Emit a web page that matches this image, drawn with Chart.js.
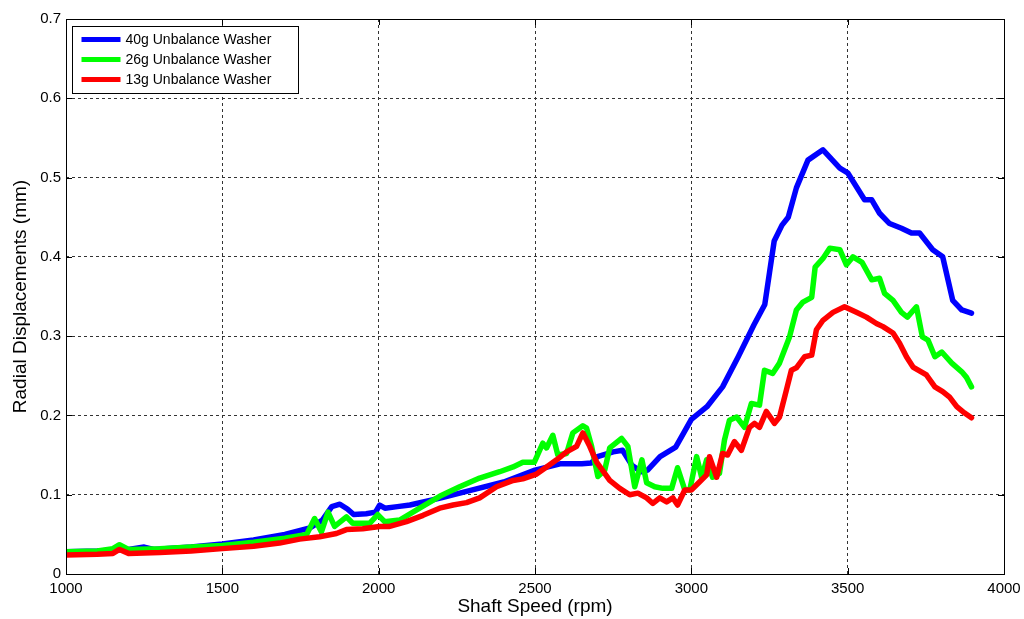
<!DOCTYPE html>
<html>
<head>
<meta charset="utf-8">
<title>Radial Displacements vs Shaft Speed</title>
<script src="https://cdn.jsdelivr.net/npm/chart.js@4.4.0/dist/chart.umd.min.js"></script>
<style>
  body { margin: 0; background: #fff; }
  #wrap { width: 1024px; height: 619px; }
</style>
</head>
<body>
<div id="wrap"><canvas id="speedChart" width="1024" height="619"></canvas></div>
<script>
//series names
var labels = ["40g Unbalance Washer", "26g Unbalance Washer", "13g Unbalance Washer"];
var colors = ["#0000ff", "#00ff00", "#ff0000"];

//axis ticks
var xTicks = [1000, 1500, 2000, 2500, 3000, 3500, 4000];
var yTicks = [0, 0.1, 0.2, 0.3, 0.4, 0.5, 0.6, 0.7];

//40g washer (rpm / mm)
var rpm40 = [1000, 1100, 1200, 1250, 1280, 1400, 1500, 1600, 1700, 1780, 1820, 1850, 1876, 1900, 1920, 1960, 1990, 2003, 2020, 2060,
    2100, 2200, 2300, 2400, 2500, 2580, 2650, 2680, 2700, 2750, 2780, 2810, 2840, 2860, 2900, 2950, 3000, 3050, 3100, 3150,
    3200, 3235, 3250, 3265, 3290, 3310, 3336, 3373, 3421, 3475, 3500, 3554, 3577, 3602, 3634, 3672, 3704, 3730, 3772, 3804,
    3836, 3865, 3896];
var disp40 = [0.028, 0.029, 0.031, 0.034, 0.031, 0.034, 0.038, 0.043, 0.050, 0.058, 0.068, 0.085, 0.088, 0.082, 0.075, 0.076, 0.078, 0.087, 0.083, 0.085,
    0.087, 0.096, 0.106, 0.116, 0.131, 0.139, 0.139, 0.140, 0.148, 0.154, 0.156, 0.137, 0.129, 0.131, 0.148, 0.160, 0.195, 0.211, 0.236, 0.274,
    0.314, 0.340, 0.380, 0.420, 0.440, 0.450, 0.487, 0.522, 0.535, 0.512, 0.506, 0.472, 0.472, 0.455, 0.442, 0.436, 0.430, 0.430, 0.409, 0.400,
    0.345, 0.333, 0.329];

//26g washer
var rpm26 = [1000, 1100, 1150, 1171, 1200, 1300, 1400, 1500, 1600, 1700, 1770, 1795, 1817, 1838, 1859, 1897, 1917, 1971, 1997, 2019,
    2067, 2131, 2195, 2259, 2323, 2387, 2430, 2461, 2498, 2525, 2537, 2557, 2573, 2601, 2621, 2653, 2665, 2681, 2701, 2723,
    2739, 2777, 2797, 2819, 2842, 2857, 2883, 2909, 2937, 2956, 2979, 2995, 3017, 3033, 3049, 3068, 3090, 3106, 3122, 3145,
    3170, 3192, 3218, 3234, 3260, 3282, 3314, 3336, 3357, 3385, 3396, 3421, 3443, 3475, 3496, 3517, 3546, 3577, 3602, 3618,
    3645, 3672, 3691, 3720, 3739, 3757, 3779, 3801, 3833, 3865, 3880, 3896];
var disp26 = [0.028, 0.029, 0.032, 0.037, 0.031, 0.032, 0.034, 0.036, 0.040, 0.045, 0.050, 0.070, 0.053, 0.078, 0.060, 0.072, 0.064, 0.064, 0.075, 0.066,
    0.068, 0.083, 0.098, 0.110, 0.121, 0.129, 0.135, 0.141, 0.141, 0.165, 0.159, 0.175, 0.150, 0.152, 0.178, 0.187, 0.184, 0.161, 0.123, 0.131,
    0.159, 0.171, 0.161, 0.110, 0.144, 0.115, 0.110, 0.108, 0.108, 0.134, 0.106, 0.106, 0.148, 0.122, 0.144, 0.122, 0.127, 0.169, 0.194, 0.198,
    0.185, 0.215, 0.213, 0.257, 0.253, 0.266, 0.299, 0.333, 0.343, 0.349, 0.387, 0.398, 0.411, 0.409, 0.390, 0.400, 0.393, 0.371, 0.373, 0.354,
    0.345, 0.330, 0.324, 0.337, 0.299, 0.295, 0.274, 0.280, 0.266, 0.255, 0.248, 0.236];

//13g washer
var rpm13 = [1000, 1100, 1150, 1171, 1200, 1300, 1400, 1500, 1600, 1683, 1747, 1811, 1865, 1897, 1949, 2003, 2035, 2089, 2142, 2195,
    2238, 2281, 2323, 2377, 2430, 2461, 2505, 2537, 2569, 2601, 2633, 2653, 2675, 2697, 2739, 2771, 2803, 2829, 2857, 2877,
    2899, 2921, 2941, 2956, 2979, 3000, 3026, 3049, 3058, 3081, 3100, 3116, 3138, 3160, 3186, 3202, 3218, 3240, 3266, 3282,
    3304, 3320, 3336, 3362, 3385, 3400, 3421, 3453, 3490, 3528, 3560, 3592, 3613, 3645, 3666, 3688, 3709, 3752, 3779, 3804,
    3826, 3849, 3874, 3896];
var disp13 = [0.024, 0.025, 0.026, 0.031, 0.026, 0.027, 0.029, 0.032, 0.035, 0.039, 0.044, 0.047, 0.051, 0.056, 0.057, 0.060, 0.060, 0.066, 0.074, 0.083,
    0.087, 0.090, 0.096, 0.110, 0.118, 0.120, 0.126, 0.135, 0.144, 0.154, 0.161, 0.178, 0.161, 0.141, 0.118, 0.108, 0.100, 0.102, 0.096, 0.089,
    0.096, 0.091, 0.096, 0.087, 0.106, 0.106, 0.116, 0.125, 0.148, 0.122, 0.152, 0.150, 0.167, 0.156, 0.185, 0.190, 0.185, 0.205, 0.190, 0.198,
    0.232, 0.257, 0.260, 0.274, 0.276, 0.308, 0.320, 0.330, 0.337, 0.330, 0.324, 0.316, 0.312, 0.304, 0.291, 0.274, 0.261, 0.251, 0.236, 0.230,
    0.223, 0.211, 0.203, 0.197];

function toPoints(xs, ys) {
    return xs.map((x, i) => ({ x: x, y: ys[i] }));
}

function makeSet(i, xs, ys, order) {
    return {
        label: labels[i],
        data: toPoints(xs, ys),
        borderColor: colors[i],
        backgroundColor: colors[i],
        borderWidth: 5.5,
        borderJoinStyle: 'round',
        borderCapStyle: 'round',
        pointRadius: 0,
        tension: 0,
        fill: false,
        order: order
    };
}

// box, inward ticks and legend drawn over the plot, matlab style
var frameAndLegend = {
    id: 'frameAndLegend',
    afterDatasetsDraw(chart) {
        const ctx = chart.ctx;
        const a = chart.chartArea;
        const xs = chart.scales.x, ys = chart.scales.y;
        ctx.save();
        ctx.strokeStyle = '#000';
        ctx.lineWidth = 1;
        ctx.beginPath();
        xTicks.forEach(v => {
            const px = Math.round(xs.getPixelForValue(v)) + 0.5;
            ctx.moveTo(px, a.bottom); ctx.lineTo(px, a.bottom - 6);
            ctx.moveTo(px, a.top); ctx.lineTo(px, a.top + 6);
        });
        yTicks.forEach(v => {
            const py = Math.round(ys.getPixelForValue(v)) + 0.5;
            ctx.moveTo(a.left, py); ctx.lineTo(a.left + 6, py);
            ctx.moveTo(a.right, py); ctx.lineTo(a.right - 6, py);
        });
        ctx.stroke();
        ctx.strokeRect(Math.round(a.left) + 0.5, Math.round(a.top) + 0.5,
            Math.round(a.right - a.left), Math.round(a.bottom - a.top));

        // legend
        const lx = a.left + 6.5, ly = a.top + 7.5, lw = 226, lh = 67;
        ctx.fillStyle = '#fff';
        ctx.fillRect(lx, ly, lw, lh);
        ctx.strokeRect(lx, ly, lw, lh);
        ctx.font = '14px "Liberation Sans", Arial, sans-serif';
        ctx.textBaseline = 'middle';
        chart.data.datasets.forEach((ds, i) => {
            const y = ly + 13 + i * 20;
            ctx.strokeStyle = ds.borderColor;
            ctx.lineWidth = 5;
            ctx.beginPath();
            ctx.moveTo(lx + 9, y);
            ctx.lineTo(lx + 48, y);
            ctx.stroke();
            ctx.fillStyle = '#000';
            ctx.fillText(ds.label, lx + 53, y + 1);
        });
        ctx.restore();
    }
};

var ctx = document.getElementById('speedChart').getContext('2d');

var speedChart = new Chart(ctx, {
    type: 'line',
    data: {
        datasets: [
            makeSet(0, rpm40, disp40, 2),
            makeSet(1, rpm26, disp26, 1),
            makeSet(2, rpm13, disp13, 0)
        ]
    },
    options: {
        responsive: false,
        animation: false,
        layout: { padding: { top: 19, right: 20, left: 0, bottom: 0 } },
        plugins: {
            legend: { display: false },
            tooltip: { enabled: false }
        },
        scales: {
            x: {
                type: 'linear',
                min: 1000,
                max: 4000,
                afterBuildTicks: s => { s.ticks = xTicks.map(v => ({ value: v })); },
                afterFit: s => { s.height = 45; s.paddingLeft = 0; s.paddingRight = 0; },
                ticks: {
                    color: '#000',
                    padding: 6,
                    maxRotation: 0,
                    font: { family: '"Liberation Sans", Arial, sans-serif', size: 15 },
                    callback: v => String(v)
                },
                grid: { color: '#333', borderDash: [3, 3], drawTicks: false },
                border: { display: false, dash: [3, 3] },
                title: {
                    display: true,
                    text: 'Shaft Speed (rpm)',
                    color: '#000',
                    padding: { top: 0, bottom: 1 },
                    font: { family: '"Liberation Sans", Arial, sans-serif', size: 19 }
                }
            },
            y: {
                min: 0,
                max: 0.7,
                afterBuildTicks: s => { s.ticks = yTicks.map(v => ({ value: v })); },
                afterFit: s => { s.width = 66; s.paddingTop = 0; s.paddingBottom = 0; },
                ticks: {
                    color: '#000',
                    padding: 5,
                    font: { family: '"Liberation Sans", Arial, sans-serif', size: 15 },
                    callback: v => String(Math.round(v * 10) / 10)
                },
                grid: { color: '#333', drawTicks: false },
                border: { display: false, dash: [3, 3] },
                title: {
                    display: true,
                    text: 'Radial Displacements (mm)',
                    color: '#000',
                    padding: { top: 9, bottom: 0 },
                    font: { family: '"Liberation Sans", Arial, sans-serif', size: 19 }
                }
            }
        }
    },
    plugins: [frameAndLegend]
});
</script>
</body>
</html>
